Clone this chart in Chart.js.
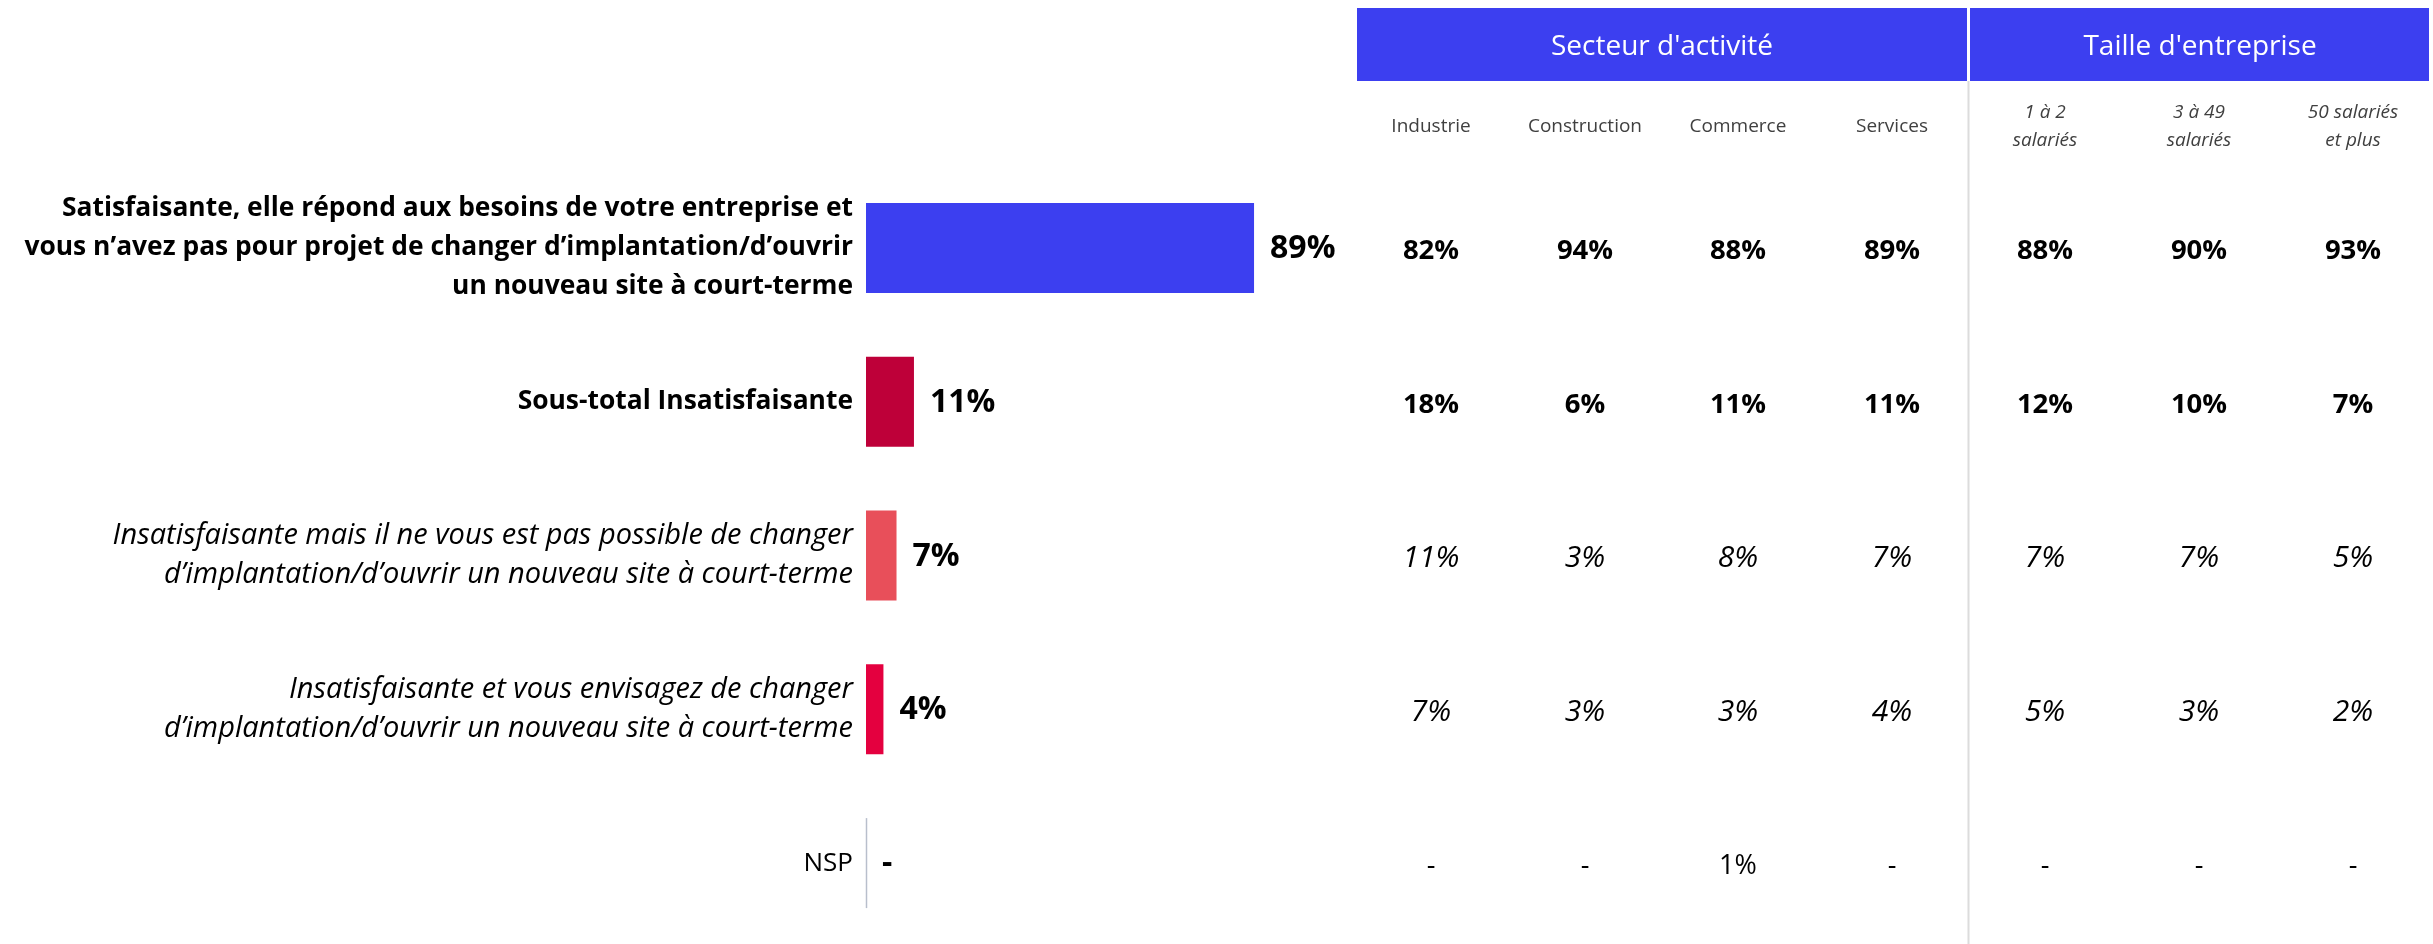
<!DOCTYPE html>
<html lang="fr">
<head>
<meta charset="utf-8">
<title>Satisfaction implantation</title>
<script src="https://cdn.jsdelivr.net/npm/chart.js@4.4.1/dist/chart.umd.min.js"></script>
<style>
    html, body { margin: 0; padding: 0; background: #fff; overflow: hidden; }
    #wrap { position: relative; width: 2433px; height: 944px; }
</style>
</head>
<body>
<div id="wrap"><canvas id="chart"></canvas></div>
<script>
const FONT = '"Open Sans", sans-serif';

const categories = [
    ['Satisfaisante, elle répond aux besoins de votre entreprise et',
     'vous n\u2019avez pas pour projet de changer d\u2019implantation/d\u2019ouvrir',
     'un nouveau site à court-terme'],
    'Sous-total Insatisfaisante',
    ['Insatisfaisante mais il ne vous est pas possible de changer',
     'd\u2019implantation/d\u2019ouvrir un nouveau site à court-terme'],
    ['Insatisfaisante et vous envisagez de changer',
     'd\u2019implantation/d\u2019ouvrir un nouveau site à court-terme'],
    'NSP'
];
const overall = [89, 11, 7, 4, null];
const barColors = ['#3c3ff0', '#be0039', '#e84f5a', '#e4003f', '#e4003f'];
const rowStyles = ['bold', 'bold', 'italic', 'italic', 'normal'];

const groupLabels = ["Secteur d'activité", "Taille d'entreprise"];
const columnLabels = [['Industrie'], ['Construction'], ['Commerce'], ['Services'],
    ['1 à 2', 'salariés'], ['3 à 49', 'salariés'], ['50 salariés', 'et plus']];
const industrie = [82, 18, 11, 7, null];
const construction = [94, 6, 3, 3, null];
const commerce = [88, 11, 8, 3, 1];
const services = [89, 11, 7, 4, null];
const taille1a2 = [88, 12, 7, 5, null];
const taille3a49 = [90, 10, 7, 3, null];
const taille50plus = [93, 7, 5, 2, null];
const columns = [industrie, construction, commerce, services, taille1a2, taille3a49, taille50plus];

const fmt = v => (v === null || v === 0) ? '-' : `${v}%`;

// Open Sans bold runs wide, so bold rows get a smaller size
function cellFont(row) {
    const st = rowStyles[row];
    if (st === 'bold') return `bold 27.5px ${FONT}`;
    if (st === 'italic') return `italic 30px ${FONT}`;
    return `27px ${FONT}`;
}

const labelFont = (c) => {
    const st = rowStyles[c.index];
    return {
        family: FONT,
        size: st === 'bold' ? 26.4 : st === 'italic' ? 29 : 26,
        weight: st === 'bold' ? 'bold' : 'normal',
        style: st === 'italic' ? 'italic' : 'normal',
        lineHeight: '39px'
    };
};

// header boxes + column titles + cell values
const sideTable = {
    id: 'sideTable',
    afterDraw(chart) {
        const { ctx, scales: { y } } = chart;
        const colX = [1431, 1585, 1738, 1892, 2045, 2199, 2353];
        ctx.save();

        ctx.fillStyle = '#3c3ff0';
        ctx.fillRect(1357, 8, 610, 73);
        ctx.fillRect(1970, 8, 459, 73);
        ctx.fillStyle = '#fff';
        ctx.font = `28px ${FONT}`;
        ctx.textAlign = 'center';
        ctx.textBaseline = 'middle';
        ctx.fillText(groupLabels[0], 1662, 47);
        ctx.fillText(groupLabels[1], 2200, 47);

        ctx.strokeStyle = '#dcdcdc';
        ctx.lineWidth = 2;
        ctx.beginPath();
        ctx.moveTo(1968.5, 81);
        ctx.lineTo(1968.5, 944);
        ctx.stroke();

        ctx.fillStyle = '#404040';
        columnLabels.forEach((lines, i) => {
            ctx.font = (i < 4 ? '' : 'italic ') + `19px ${FONT}`;
            if (lines.length === 1) {
                ctx.fillText(lines[0], colX[i], 127);
            } else {
                ctx.fillText(lines[0], colX[i], 113);
                ctx.fillText(lines[1], colX[i], 141);
            }
        });

        ctx.fillStyle = '#000';
        columns.forEach((col, i) => {
            col.forEach((v, row) => {
                ctx.font = cellFont(row);
                ctx.fillText(fmt(v), colX[i], y.getPixelForValue(row) + 3);
            });
        });
        ctx.restore();
    }
};

// value next to each bar, and the axis stub on empty rows
const barValues = {
    id: 'barValues',
    afterDatasetsDraw(chart) {
        const { ctx, scales: { x, y } } = chart;
        ctx.save();
        ctx.fillStyle = '#000';
        ctx.textAlign = 'left';
        ctx.textBaseline = 'middle';
        ctx.font = `bold 32px ${FONT}`;
        overall.forEach((v, i) => {
            const yy = y.getPixelForValue(i);
            const xx = x.getPixelForValue(v || 0);
            ctx.fillText(fmt(v), xx + 16, yy + 1);
            if (!v) {
                ctx.strokeStyle = '#b8bfcc';
                ctx.lineWidth = 1.5;
                ctx.beginPath();
                ctx.moveTo(x.getPixelForValue(0) + 0.5, yy - 45);
                ctx.lineTo(x.getPixelForValue(0) + 0.5, yy + 45);
                ctx.stroke();
            }
        });
        ctx.restore();
    }
};

new Chart(document.getElementById('chart'), {
    type: 'bar',
    data: {
        labels: categories,
        datasets: [{
            data: overall,
            backgroundColor: barColors,
            barPercentage: 0.585,
            categoryPercentage: 1
        }]
    },
    options: {
        indexAxis: 'y',
        responsive: true,
        maintainAspectRatio: false,
        animation: false,
        layout: { padding: { top: 171, bottom: 4, left: 0, right: 1131 } },
        plugins: {
            legend: { display: false },
            tooltip: { enabled: false }
        },
        scales: {
            x: { display: false, min: 0, max: 100 },
            y: {
                afterFit(scale) {
                    scale.width = 866;
                    scale.paddingTop = 0;
                    scale.paddingBottom = 0;
                },
                grid: { display: false, drawTicks: false },
                border: { display: false },
                ticks: {
                    padding: 13,
                    color: '#000',
                    font: labelFont
                }
            }
        }
    },
    plugins: [sideTable, barValues]
});
</script>
</body>
</html>
